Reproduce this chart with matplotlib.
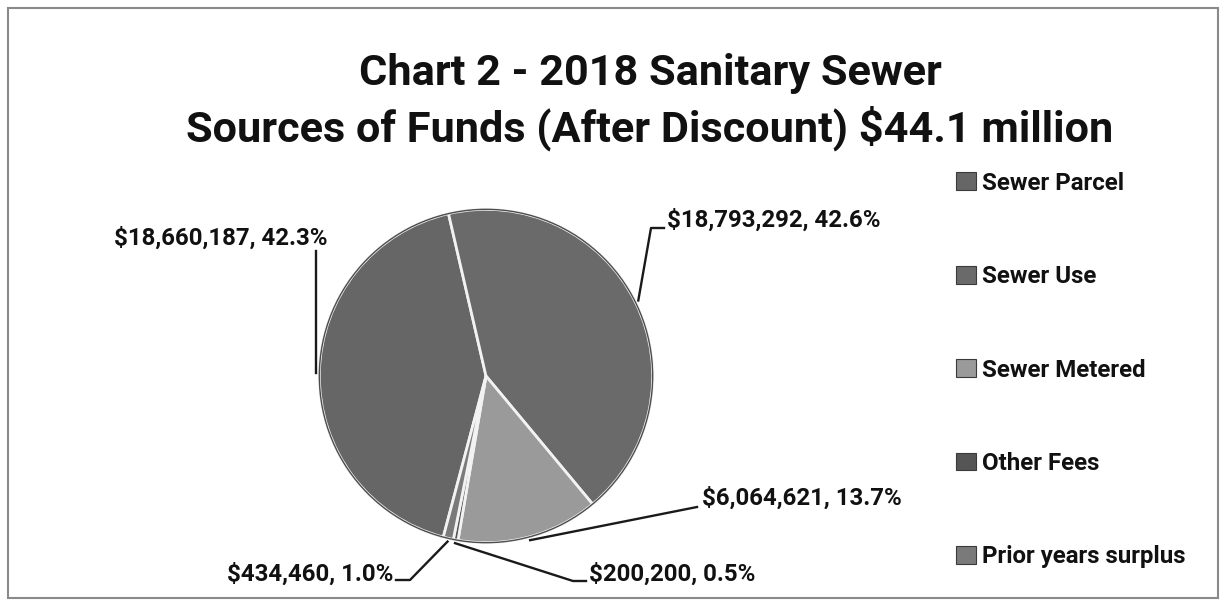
import numpy as np
import matplotlib.pyplot as plt
from matplotlib.patches import Rectangle, Circle
from matplotlib.lines import Line2D

plt.rcParams['font.family'] = ['Roboto', 'DejaVu Sans']

# data (drawing order, clockwise from the Parcel/Use boundary)
sources = ["Sewer Parcel", "Sewer Use", "Sewer Metered", "Other Fees", "Prior years surplus"]
amounts = [18660187, 18793292, 6064621, 200200, 434460]
colors = ["#666666", "#6a6a6a", "#9a9a9a", "#555555", "#7a7a7a"]

W, H = 1222, 604
fig = plt.figure(figsize=(W / 100, H / 100), dpi=100)
renderer = fig.canvas.get_renderer()

def fx(x):
    return x / W

def fy(y):
    return 1 - y / H

def size_for(text, width, base=20):
    # font size so that bold text is about `width` pixels wide
    t = fig.text(0, 0, text, fontsize=base, fontweight="bold")
    w = t.get_window_extent(renderer).width
    t.remove()
    return base * width / w

# frame
fig.patches.append(Rectangle((fx(8), fy(598)), fx(1218) - fx(8), fy(8) - fy(598),
                             transform=fig.transFigure, fill=False,
                             edgecolor="#8a8a8a", linewidth=1.5))

title1 = "Chart 2 - 2018 Sanitary Sewer"
title2 = "Sources of Funds (After Discount) $44.1 million"
ts = size_for(title2, 925)
fig.text(fx(650), fy(74), title1, ha="center", va="center",
         fontsize=ts, fontweight="bold", color="#111111")
fig.text(fx(650), fy(128), title2, ha="center", va="center",
         fontsize=ts, fontweight="bold", color="#111111")

# pie
cx, cy, r = 486, 376, 170
ax = fig.add_axes([fx(cx - r), fy(cy + r), 2 * r / W, 2 * r / H])
total = sum(amounts)
start = 103 + 360 * amounts[0] / total
wedges, _ = ax.pie(amounts, colors=colors, startangle=start, counterclock=False,
                   wedgeprops=dict(edgecolor="#f2f2f2", linewidth=2))
ax.add_patch(Circle((0, 0), 1.0, fill=False, edgecolor="#4d4d4d", linewidth=1.0))
ax.set_xlim(-1.02, 1.02)
ax.set_ylim(-1.02, 1.02)
ax.axis("off")

# data labels: text position (px), alignment, elbow points (px)
ls = size_for("$18,793,292, 42.6%", 213)
label_pos = [
    ((327, 238), "right", [(None, 251)]),
    ((667, 220), "left", [(651, 228), (664, 228)]),
    ((702, 498), "left", [(697, 507)]),
    ((589, 574), "left", [(573, 581), (586, 581)]),
    ((393, 574), "right", [(410, 580), (396, 580)]),
]

for w, amt, (tpos, ha, elbows) in zip(wedges, amounts, label_pos):
    mid = np.deg2rad((w.theta1 + w.theta2) / 2)
    ex = cx + r * np.cos(mid)
    ey = cy - r * np.sin(mid)
    pct = 100 * amt / total
    fig.text(fx(tpos[0]), fy(tpos[1]), f"${amt:,}, {pct:.1f}%", ha=ha, va="center",
             fontsize=ls, fontweight="bold", color="#111111")
    xs, ys = [ex], [ey]
    for px, py in elbows:
        xs.append(ex if px is None else px)
        ys.append(py)
    fig.add_artist(Line2D([fx(v) for v in xs], [fy(v) for v in ys],
                          transform=fig.transFigure, color="#1a1a1a", linewidth=1.7))

# legend
gs = size_for("Prior years surplus", 204)
leg = fig.legend(wedges, sources, loc="upper left", bbox_to_anchor=(fx(946), fy(162)),
                 frameon=False, prop=dict(size=gs, weight="bold"), labelspacing=2.93,
                 handlelength=0.85, handleheight=0.75, handletextpad=0.25,
                 labelcolor="#111111", borderaxespad=0)
for h in leg.legend_handles:
    h.set_edgecolor("#3a3a3a")
    h.set_linewidth(0.8)

fig.savefig("out.png", dpi=100)
